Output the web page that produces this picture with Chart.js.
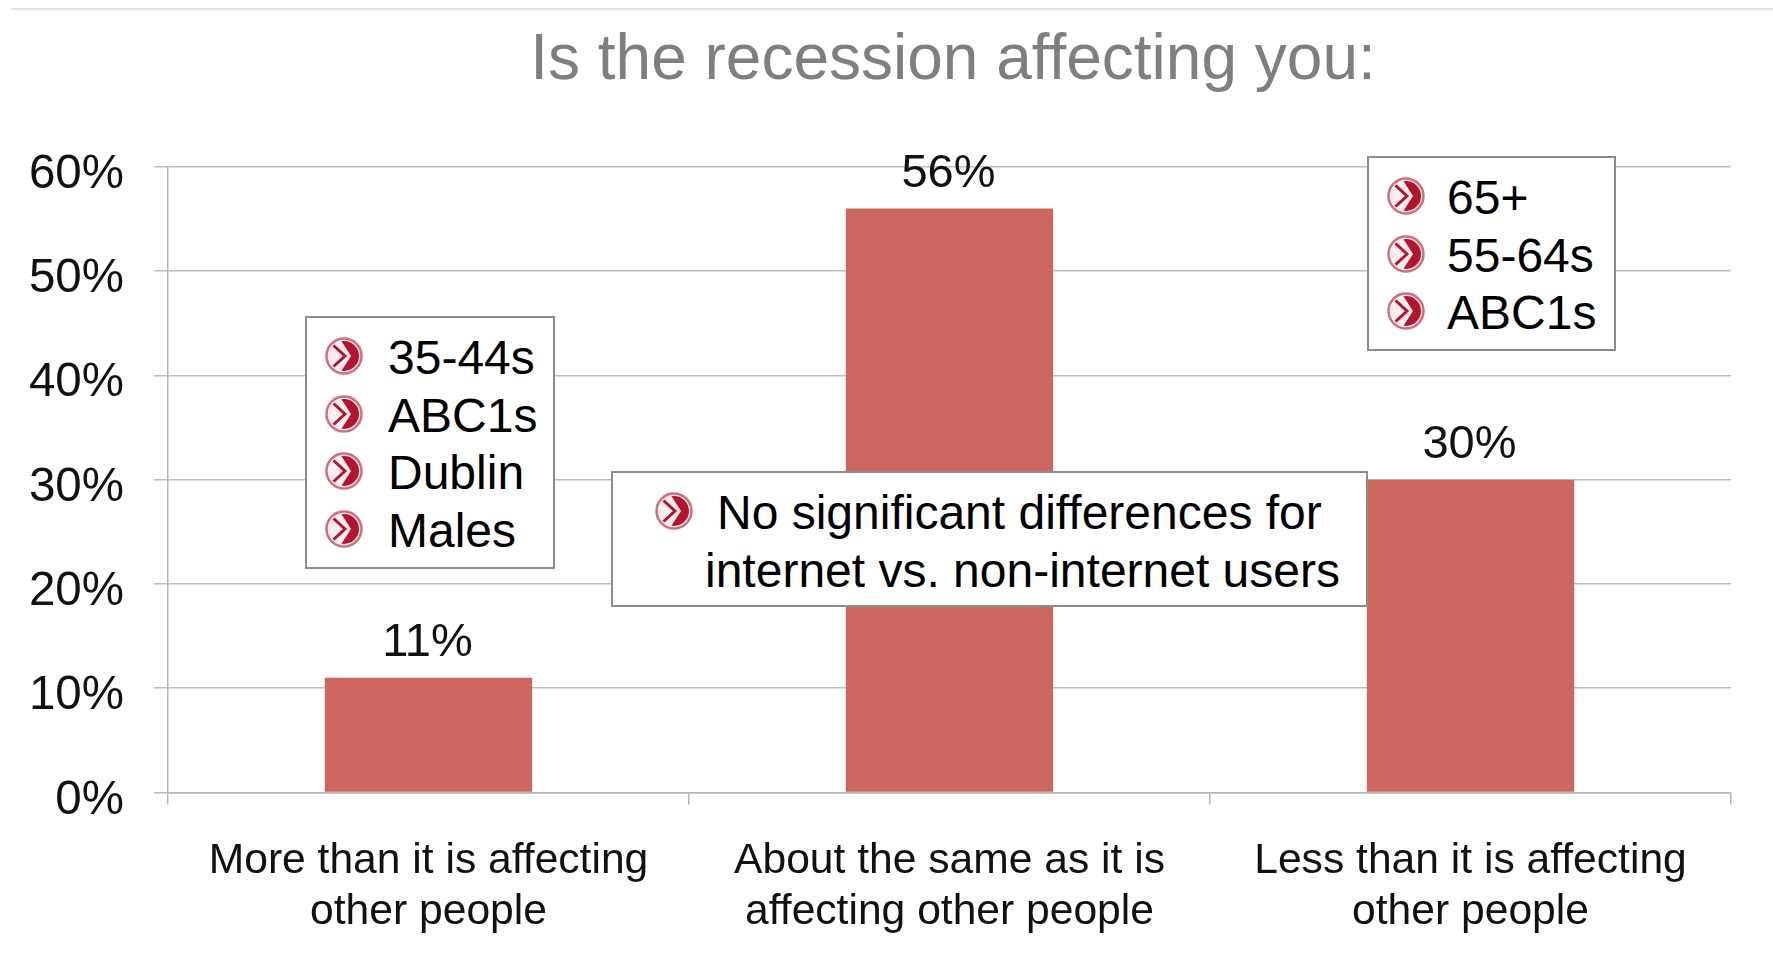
<!DOCTYPE html>
<html>
<head>
<meta charset="utf-8">
<script src="https://cdn.jsdelivr.net/npm/chart.js@4"></script>
<style>
  html, body { margin: 0; background: #fff; }
  #wrap { position: relative; width: 1773px; height: 980px; overflow: hidden; font-family: "Liberation Sans", Arial, sans-serif; }
  #topline { position: absolute; left: 11px; right: 0; top: 8px; height: 2px; background: #e2e2e2; }
  .box { position: absolute; box-sizing: border-box; background: #fff; border: 2px solid #8c8c8c; color: #000; font-size: 48px; }
  .row { position: absolute; white-space: nowrap; line-height: 58px; height: 58px; }
  .box svg { position: absolute; width: 38px; height: 38px; }
</style>
</head>
<body>
<div id="wrap">
  <canvas id="chart" width="1773" height="980"></canvas>
  <div id="topline"></div>
  <div id="notes"></div>
</div>
<svg width="0" height="0" style="position:absolute">
  <defs>
    <clipPath id="inner"><circle cx="19" cy="19" r="15"/></clipPath>
  </defs>
  <symbol id="arrow" viewBox="0 0 38 38">
    <circle cx="19" cy="19" r="17.5" fill="#fbeef0" stroke="#d0707f" stroke-width="2.5"/>
    <g clip-path="url(#inner)">
      <path d="M15 2 L38 2 L38 36 L15 36 L26 19 Z" fill="#b3152d"/>
      <path d="M8 8 L20 19 L8 30" fill="none" stroke="#b3152d" stroke-width="3"/>
    </g>
  </symbol>
</svg>
<script>
const categories = [
  ['More than it is affecting', 'other people'],
  ['About the same as it is', 'affecting other people'],
  ['Less than it is affecting', 'other people']
];
const values = [11, 56, 30];
const leftNote = ['35-44s', 'ABC1s', 'Dublin', 'Males'];
const rightNote = ['65+', '55-64s', 'ABC1s'];
const middleNote = ['No significant differences for', 'internet vs. non-internet users'];

const fontFamily = '"Liberation Sans", Arial, sans-serif';

function addNote(lines, box, textX, iconX, firstY, step, bulletOnlyFirst) {
  const el = document.createElement('div');
  el.className = 'box';
  el.style.cssText = `left:${box[0]}px;top:${box[1]}px;width:${box[2]}px;height:${box[3]}px`;
  lines.forEach((line, i) => {
    const row = document.createElement('div');
    row.className = 'row';
    row.textContent = line;
    const x = Array.isArray(textX) ? textX[i] : textX;
    row.style.cssText = `left:${x}px;top:${firstY + i * step - 29}px`;
    el.appendChild(row);
    if (!bulletOnlyFirst || i === 0) {
      el.insertAdjacentHTML('beforeend',
        `<svg style="left:${iconX - 19}px;top:${firstY + i * step - 21}px"><use href="#arrow"/></svg>`);
    }
  });
  document.getElementById('notes').appendChild(el);
}

addNote(leftNote, [305, 316, 250, 253], 81, 37, 40, 57.6);
addNote(rightNote, [1367, 156, 249, 195], 78, 37, 40, 57.6);
addNote(middleNote, [611, 471, 757, 136], [104, 92], 61, 40, 57.6, true);

// labels over the bars
const barLabels = {
  id: 'barLabels',
  afterDatasetsDraw(chart) {
    const ctx = chart.ctx;
    ctx.save();
    ctx.font = '47px ' + fontFamily;
    ctx.fillStyle = '#111';
    ctx.textAlign = 'center';
    ctx.textBaseline = 'middle';
    chart.getDatasetMeta(0).data.forEach((bar, i) => {
      ctx.fillText(values[i] + '%', bar.x - 1, bar.y - 34.5);
    });
    ctx.restore();
  }
};

// the value labels sit a little under their grid lines in the original, the title a bit right
const nudge = {
  id: 'nudge',
  beforeDraw(chart) {
    chart.scales.y.getLabelItems(chart.chartArea).forEach((item) => {
      if (!item.nudged) {
        item.options.translation[1] += 8;
        item.nudged = true;
      }
    });
    if (!chart.titleBlock.nudged) {
      chart.titleBlock.left += 7;
      chart.titleBlock.nudged = true;
    }
  }
};

new Chart(document.getElementById('chart'), {
  type: 'bar',
  data: {
    labels: categories,
    datasets: [{
      data: values,
      backgroundColor: '#cc665e',
      categoryPercentage: 1,
      barPercentage: 0.398
    }]
  },
  plugins: [barLabels, nudge],
  options: {
    responsive: false,
    animation: false,
    layout: { padding: { left: 0, right: 42, top: 0, bottom: 0 } },
    plugins: {
      legend: { display: false },
      tooltip: { enabled: false },
      title: {
        display: true,
        fullSize: false,
        text: 'Is the recession affecting you:',
        color: '#7f7f7f',
        font: { family: fontFamily, size: 64, weight: 'normal', lineHeight: 1.2 },
        padding: { top: 23, bottom: 67 }
      }
    },
    scales: {
      x: {
        afterFit(scale) { scale.height = 187.5; },
        border: { color: '#b5b5b5', width: 1.5 },
        grid: { drawOnChartArea: false, color: '#b5b5b5', lineWidth: 1.5, tickLength: 12 },
        ticks: {
          color: '#111',
          maxRotation: 0,
          padding: 32,
          font: { family: fontFamily, size: 42.6, lineHeight: 1.18 }
        }
      },
      y: {
        min: 0,
        max: 60,
        afterFit(scale) { scale.width = 168; },
        border: { color: '#b5b5b5', width: 1.5 },
        grid: { color: '#bcbcbc', lineWidth: 1.5, tickLength: 14 },
        ticks: {
          stepSize: 10,
          color: '#111',
          padding: 30,
          callback: (v) => v + '%',
          font: { family: fontFamily, size: 47.5 }
        }
      }
    }
  }
});
</script>
</body>
</html>
